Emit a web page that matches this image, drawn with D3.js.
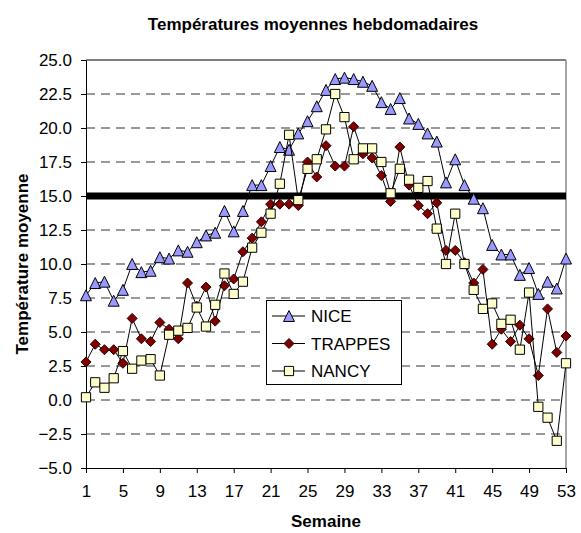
<!DOCTYPE html>
<html>
<head>
<meta charset="utf-8">
<script src="https://cdn.jsdelivr.net/npm/d3@7"></script>
<style>
  body { margin: 0; background: #fff; }
  svg text { font-family: "Liberation Sans", Arial, sans-serif; }
</style>
</head>
<body>
<div id="chart"></div>
<script>
// weekly mean temperatures, weeks 1..53
var weeks = d3.range(1, 54);
var nice = [7.7, 8.6, 8.7, 7.3, 8.1, 10.0, 9.4, 9.5, 10.5, 10.4,
  11.0, 10.9, 11.6, 12.1, 12.3, 13.9, 12.4, 13.9, 15.8, 15.8,
  17.2, 18.6, 18.4, 19.6, 20.5, 21.6, 22.8, 23.6, 23.7, 23.6,
  23.4, 23.1, 21.9, 21.4, 22.2, 20.7, 20.3, 19.6, 19.0, 16.0,
  17.7, 15.8, 14.8, 14.1, 11.4, 10.7, 10.7, 9.2, 9.7, 7.8,
  8.7, 8.2, 10.4];
var trappes = [2.8, 4.1, 3.7, 3.7, 2.7, 6.0, 4.5, 4.3, 5.7, 5.2,
  4.5, 8.6, 6.9, 8.3, 5.8, 8.4, 8.9, 10.9, 11.9, 13.1,
  14.4, 14.4, 14.4, 14.3, 17.5, 16.4, 18.7, 17.2, 17.2, 20.1,
  18.1, 17.8, 16.5, 14.6, 18.6, 15.8, 14.3, 13.7, 14.5, 11.0,
  11.0, 10.1, 8.6, 9.6, 4.1, 5.2, 4.3, 5.5, 4.5, 1.8,
  6.7, 3.5, 4.7];
var nancy = [0.2, 1.3, 0.9, 1.6, 3.6, 2.3, 2.9, 3.0, 1.8, 4.8,
  5.1, 5.3, 6.8, 5.4, 7.0, 9.3, 7.8, 8.7, 11.2, 12.3,
  13.7, 15.9, 19.5, 14.7, 17.0, 17.7, 19.9, 22.5, 20.8, 17.7,
  18.5, 18.5, 17.5, 15.2, 17.0, 16.2, 15.6, 16.1, 12.6, 10.0,
  13.7, 10.0, 8.1, 6.7, 7.1, 5.6, 5.9, 3.7, 7.9, -0.5,
  -1.3, -3.0, 2.7];
var xTicks = [1, 5, 9, 13, 17, 21, 25, 29, 33, 37, 41, 45, 49, 53];
var yTicks = [-5, -2.5, 0, 2.5, 5, 7.5, 10, 12.5, 15, 17.5, 20, 22.5, 25];
var seuil = 15;

var width = 581, height = 533;
var margin = { left: 86, right: 15, top: 60, bottom: 65 };

var svg = d3.select("#chart").append("svg")
  .attr("width", width).attr("height", height);

var x = d3.scaleLinear().domain([1, 53]).range([margin.left, width - margin.right]);
var y = d3.scaleLinear().domain([-5, 25]).range([height - margin.bottom, margin.top]);

// title
svg.append("text")
  .attr("x", 313).attr("y", 30)
  .attr("text-anchor", "middle")
  .style("font-size", "17px").style("font-weight", "bold")
  .text("Températures moyennes hebdomadaires");

// dashed grid
svg.append("g").selectAll("line")
  .data(yTicks.filter(function (d) { return d > -5 && d < 25; }))
  .enter().append("line")
  .attr("x1", x(1)).attr("x2", x(53))
  .attr("y1", function (d) { return y(d); })
  .attr("y2", function (d) { return y(d); })
  .attr("stroke", "#333")
  .attr("stroke-dasharray", "9,6");

// plot frame: top black, right grey
svg.append("line")
  .attr("x1", x(1)).attr("x2", x(53)).attr("y1", y(25)).attr("y2", y(25))
  .attr("stroke", "#000");
svg.append("line")
  .attr("x1", x(53)).attr("x2", x(53)).attr("y1", y(25)).attr("y2", y(-5))
  .attr("stroke", "#888").attr("stroke-width", 1.5);

// axes
var yAxis = svg.append("g")
  .attr("transform", "translate(" + x(1) + ",0)")
  .call(d3.axisLeft(y).tickValues(yTicks).tickFormat(d3.format(".1f"))
    .tickSize(5).tickSizeOuter(0).tickPadding(9));
var xAxis = svg.append("g")
  .attr("transform", "translate(0," + y(-5) + ")")
  .call(d3.axisBottom(x).tickValues(xTicks).tickFormat(d3.format("d"))
    .tickSize(5).tickSizeOuter(0).tickPadding(12));
[yAxis, xAxis].forEach(function (a) {
  a.selectAll("text").style("font-size", "17px").style("font-family", "'Liberation Sans', Arial, sans-serif").attr("fill", "#000");
  a.selectAll("line").attr("stroke", "#000");
  a.select(".domain").attr("stroke", "#000");
});

// axis titles
svg.append("text")
  .attr("x", x(27)).attr("y", 527)
  .attr("text-anchor", "middle")
  .style("font-size", "17px").style("font-weight", "bold")
  .text("Semaine");
svg.append("text")
  .attr("transform", "translate(22," + y(10) + ") rotate(-90)")
  .attr("dy", "0.35em")
  .attr("text-anchor", "middle")
  .style("font-size", "17px").style("font-weight", "bold")
  .text("Température moyenne");

// thick reference line at 15
svg.append("line")
  .attr("x1", x(1)).attr("x2", x(53))
  .attr("y1", y(seuil)).attr("y2", y(seuil))
  .attr("stroke", "#000").attr("stroke-width", 7);

var line = d3.line()
  .x(function (d, i) { return x(weeks[i]); })
  .y(function (d) { return y(d); });

// square diamond (equal width and height), as in the spreadsheet
var diamond = {
  draw: function (ctx, size) {
    var r = Math.sqrt(size / 2);
    ctx.moveTo(0, -r); ctx.lineTo(r, 0); ctx.lineTo(0, r); ctx.lineTo(-r, 0); ctx.closePath();
  }
};
var triangle = {
  draw: function (ctx, size) {
    var h = Math.sqrt(size * 2) / 2;
    ctx.moveTo(0, -h); ctx.lineTo(h, h); ctx.lineTo(-h, h); ctx.closePath();
  }
};

var series = [
  { name: "NICE", values: nice, shape: triangle, size: 60, fill: "#9999ff", stroke: "#000" },
  { name: "TRAPPES", values: trappes, shape: diamond, size: 50, fill: "#800000", stroke: "#2a0000" },
  { name: "NANCY", values: nancy, shape: d3.symbolSquare, size: 85, fill: "#ffffcc", stroke: "#000" }
];

series.forEach(function (s) {
  var g = svg.append("g");
  g.append("path")
    .attr("d", line(s.values))
    .attr("fill", "none").attr("stroke", "#000").attr("stroke-width", 1);
  g.selectAll("path.m")
    .data(s.values)
    .enter().append("path")
    .attr("class", "m")
    .attr("transform", function (d, i) { return "translate(" + x(weeks[i]) + "," + y(d) + ")"; })
    .attr("d", d3.symbol().type(s.shape).size(s.size))
    .attr("fill", s.fill).attr("stroke", s.stroke).attr("stroke-width", 1);
});

// legend
var leg = svg.append("g");
leg.append("rect")
  .attr("x", 266.5).attr("y", 300.5).attr("width", 135).attr("height", 84)
  .attr("fill", "#fff").attr("stroke", "#000");
series.forEach(function (s, i) {
  var ly = 316 + i * 27.5;
  leg.append("line")
    .attr("x1", 272).attr("x2", 305).attr("y1", ly).attr("y2", ly)
    .attr("stroke", "#000");
  leg.append("path")
    .attr("transform", "translate(289," + ly + ")")
    .attr("d", d3.symbol().type(s.shape).size(s.size))
    .attr("fill", s.fill).attr("stroke", s.stroke);
  leg.append("text")
    .attr("x", 311).attr("y", ly).attr("dy", "0.36em")
    .style("font-size", "17px")
    .text(s.name);
});
</script>
</body>
</html>
